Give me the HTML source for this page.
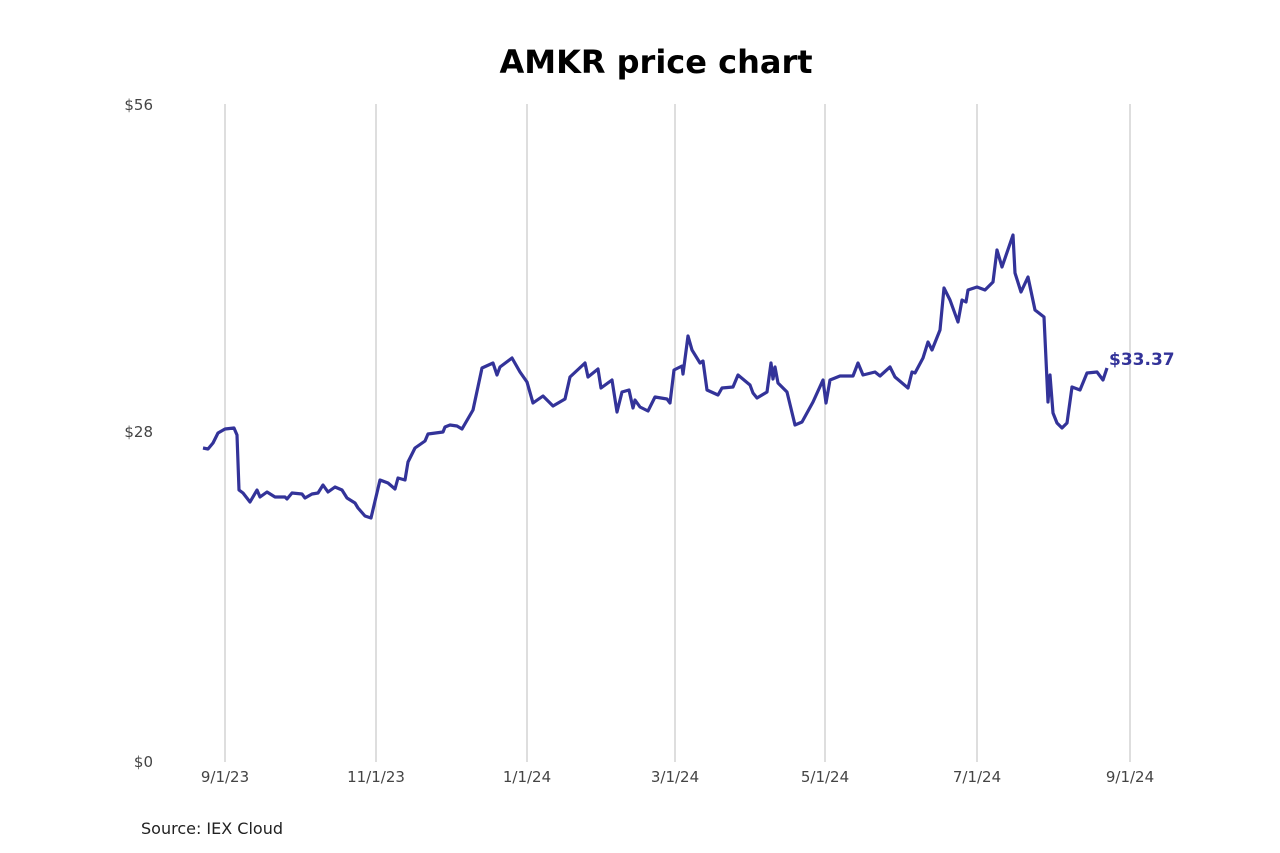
<!DOCTYPE html>
<html><head><meta charset="utf-8"><style>
body{margin:0;background:#fff;}
svg{display:block;font-family:"DejaVu Sans","Liberation Sans",sans-serif;}
</style></head><body>
<svg width="1280" height="853" viewBox="0 0 1280 853">
<rect width="1280" height="853" fill="#fff"/>
<text x="656" y="73" text-anchor="middle" font-size="32" font-weight="bold" fill="#000">AMKR price chart</text>
<g stroke="#c8c8c8" stroke-width="1.2">
<line x1="225" y1="104" x2="225" y2="762"/>
<line x1="376" y1="104" x2="376" y2="762"/>
<line x1="527" y1="104" x2="527" y2="762"/>
<line x1="675" y1="104" x2="675" y2="762"/>
<line x1="825" y1="104" x2="825" y2="762"/>
<line x1="977" y1="104" x2="977" y2="762"/>
<line x1="1130" y1="104" x2="1130" y2="762"/>
</g>
<g font-size="15" fill="#444" text-anchor="end">
<text x="153" y="110">$56</text>
<text x="153" y="437">$28</text>
<text x="153" y="767">$0</text>
</g>
<g font-size="15" fill="#444" text-anchor="middle">
<text x="225" y="782">9/1/23</text>
<text x="376" y="782">11/1/23</text>
<text x="527" y="782">1/1/24</text>
<text x="675" y="782">3/1/24</text>
<text x="825" y="782">5/1/24</text>
<text x="977" y="782">7/1/24</text>
<text x="1130" y="782">9/1/24</text>
</g>
<text x="141" y="834" font-size="16" fill="#222">Source: IEX Cloud</text>
<polyline fill="none" stroke="#333399" stroke-width="3.2" stroke-linejoin="round" points="203,448 208,449 213,443 218,433 225,429 234,428 237,435 239,490 243,493 250,502 257,490 260,497 267,492 275,497 285,497 287,499 292,493 302,494 305,498 312,494 318,493 323,485 328,492 335,487 342,490 347,498 355,503 358,508 365,516 371,518 380,480 388,483 395,489 398,478 405,480 408,462 415,448 425,441 428,434 443,432 445,427 450,425 457,426 462,429 473,410 482,368 493,363 497,375 500,367 512,358 520,372 527,382 533,403 543,396 553,406 565,399 570,377 585,363 588,377 598,369 601,388 612,380 617,412 622,392 629,390 633,408 635,400 640,407 648,411 655,397 667,399 670,403 674,370 682,366 683,374 688,336 692,350 700,363 703,361 707,390 718,395 722,388 733,387 738,375 750,385 753,393 757,398 767,392 771,363 773,379 775,367 778,383 787,392 795,425 802,422 813,402 823,380 826,403 830,380 840,376 853,376 858,363 863,375 875,372 880,376 890,367 895,377 908,388 912,372 915,373 923,358 928,342 932,350 940,330 944,288 950,300 958,322 962,300 966,302 968,290 977,287 985,290 993,282 997,250 1002,267 1013,235 1015,273 1021,292 1028,277 1035,310 1044,317 1048,402 1050,375 1053,413 1057,423 1062,428 1067,423 1072,387 1080,390 1087,373 1097,372 1103,380 1107,368"/>
<text x="1109" y="365" font-size="17" font-weight="bold" fill="#333399">$33.37</text>
</svg>
</body></html>
